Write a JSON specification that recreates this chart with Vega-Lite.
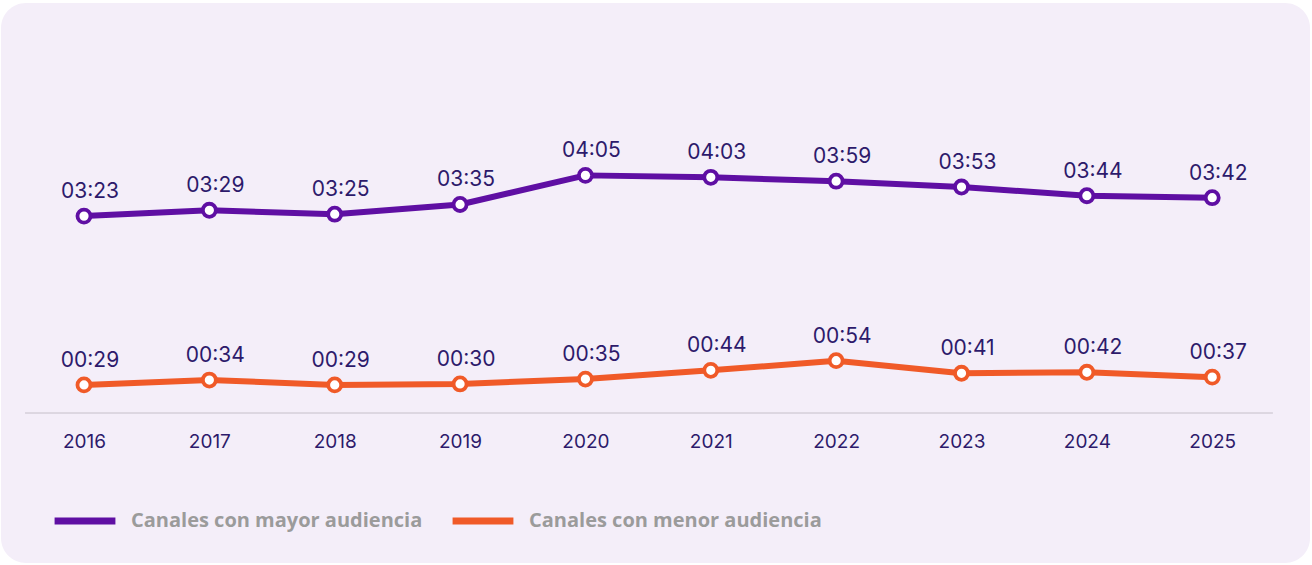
{
  "$schema": "https://vega.github.io/schema/vega-lite/v6.json",
  "width": 1312,
  "height": 565,
  "autosize": {"type": "fit", "contains": "padding"},
  "padding": {"left": 1, "right": 2, "top": 3, "bottom": 2},
  "background": "#ffffff",
  "config": {
    "view": {"fill": "#f4eef9", "cornerRadius": 25, "stroke": null},
    "font": "Inter"
  },
  "data": {
    "values": [
      {"year": 2016, "serie": "Canales con mayor audiencia", "seg": 203, "label": "03:23"},
      {"year": 2017, "serie": "Canales con mayor audiencia", "seg": 209, "label": "03:29"},
      {"year": 2018, "serie": "Canales con mayor audiencia", "seg": 205, "label": "03:25"},
      {"year": 2019, "serie": "Canales con mayor audiencia", "seg": 215, "label": "03:35"},
      {"year": 2020, "serie": "Canales con mayor audiencia", "seg": 245, "label": "04:05"},
      {"year": 2021, "serie": "Canales con mayor audiencia", "seg": 243, "label": "04:03"},
      {"year": 2022, "serie": "Canales con mayor audiencia", "seg": 239, "label": "03:59"},
      {"year": 2023, "serie": "Canales con mayor audiencia", "seg": 233, "label": "03:53"},
      {"year": 2024, "serie": "Canales con mayor audiencia", "seg": 224, "label": "03:44"},
      {"year": 2025, "serie": "Canales con mayor audiencia", "seg": 222, "label": "03:42"},
      {"year": 2016, "serie": "Canales con menor audiencia", "seg": 29, "label": "00:29"},
      {"year": 2017, "serie": "Canales con menor audiencia", "seg": 34, "label": "00:34"},
      {"year": 2018, "serie": "Canales con menor audiencia", "seg": 29, "label": "00:29"},
      {"year": 2019, "serie": "Canales con menor audiencia", "seg": 30, "label": "00:30"},
      {"year": 2020, "serie": "Canales con menor audiencia", "seg": 35, "label": "00:35"},
      {"year": 2021, "serie": "Canales con menor audiencia", "seg": 44, "label": "00:44"},
      {"year": 2022, "serie": "Canales con menor audiencia", "seg": 54, "label": "00:54"},
      {"year": 2023, "serie": "Canales con menor audiencia", "seg": 41, "label": "00:41"},
      {"year": 2024, "serie": "Canales con menor audiencia", "seg": 42, "label": "00:42"},
      {"year": 2025, "serie": "Canales con menor audiencia", "seg": 37, "label": "00:37"}
    ]
  },
  "encoding": {
    "x": {
      "field": "year",
      "type": "quantitative",
      "scale": {"domain": [2015.338, 2025.78], "nice": false, "zero": false},
      "axis": {
        "values": [2016, 2017, 2018, 2019, 2020, 2021, 2022, 2023, 2024, 2025],
        "format": "d",
        "title": null,
        "domain": false,
        "ticks": false,
        "grid": false,
        "offset": -150,
        "labelPadding": 19,
        "labelFontSize": 19,
        "labelColor": "#2d1a6b",
        "labelFont": "Inter",
        "labelFlush": false
      }
    },
    "y": {
      "field": "seg",
      "type": "quantitative",
      "scale": {"domain": [-154.6, 422.7], "nice": false, "zero": false},
      "axis": null
    }
  },
  "layer": [
    {
      "mark": {"type": "rule", "color": "#dcd6e2", "strokeWidth": 1},
      "encoding": {
        "x": {"datum": 2015.53, "type": "quantitative"},
        "x2": {"datum": 2025.48},
        "y": {"datum": 0, "type": "quantitative"}
      }
    },
    {
      "mark": {"type": "line", "strokeWidth": 6, "strokeCap": "round", "strokeJoin": "round"},
      "encoding": {
        "color": {
          "field": "serie",
          "type": "nominal",
          "scale": {
            "domain": ["Canales con mayor audiencia", "Canales con menor audiencia"],
            "range": ["#5f0fa3", "#f05a28"]
          },
          "legend": {
            "title": null,
            "orient": "none",
            "direction": "horizontal",
            "legendX": 50,
            "legendY": 484,
            "symbolType": "stroke",
            "symbolSize": 3700,
            "symbolStrokeWidth": 7,
            "labelFontSize": 20,
            "labelFontWeight": "bold",
            "labelFont": "Open Sans",
            "labelColor": "#9b9b9b",
            "labelOffset": 12,
            "labelLimit": 500,
            "columnPadding": 15,
            "padding": 0
          }
        }
      }
    },
    {
      "mark": {"type": "point", "shape": "circle", "filled": false, "fill": "#ffffff", "fillOpacity": 1, "size": 170, "strokeWidth": 3.8, "opacity": 1},
      "encoding": {
        "stroke": {
          "field": "serie",
          "type": "nominal",
          "scale": {
            "domain": ["Canales con mayor audiencia", "Canales con menor audiencia"],
            "range": ["#5f0fa3", "#f05a28"]
          },
          "legend": null
        }
      }
    },
    {
      "mark": {"type": "text", "baseline": "alphabetic", "align": "center", "dy": -18, "dx": 6, "fontSize": 21, "color": "#2d1a6b", "font": "Inter"},
      "encoding": {
        "text": {"field": "label"}
      }
    }
  ]
}
